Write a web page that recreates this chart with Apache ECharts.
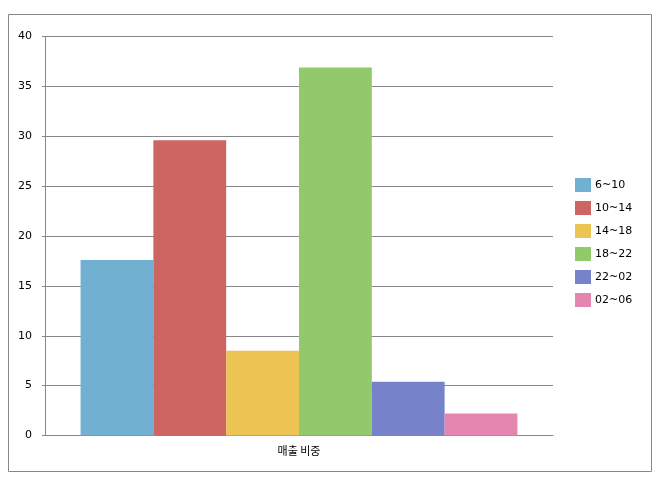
<!DOCTYPE html>
<html>
<head>
<meta charset="utf-8">
<script src="https://cdn.jsdelivr.net/npm/echarts@6/dist/echarts.min.js"></script>
<style>
  html, body { margin: 0; padding: 0; background: #fff; }
  #chart { width: 661px; height: 482px; }
</style>
</head>
<body>
<div id="chart"></div>
<script>
// 데이터
var categories = ['매출 비중'];
var seriesNames = ['6~10', '10~14', '14~18', '18~22', '22~02', '02~06'];
var seriesValues = [17.6, 29.6, 8.5, 36.9, 5.4, 2.2];
var seriesColors = ['#71B0D0', '#CD6563', '#EDC354', '#92C96A', '#7682C9', '#E486B0'];
var yTicks = { min: 0, max: 40, interval: 5 };

var myChart = echarts.init(document.getElementById('chart'));

var series = seriesNames.map(function (name, i) {
    return {
        name: name,
        type: 'bar',
        data: [seriesValues[i]],
        barGap: '0%',
        barCategoryGap: '14%',
        itemStyle: { color: seriesColors[i] }
    };
});

var option = {
    backgroundColor: '#fff',
    animation: false,
    textStyle: { fontFamily: '"DejaVu Sans", "Noto Sans CJK KR", sans-serif' },
    // 바깥 테두리
    graphic: [{
        type: 'rect',
        shape: { x: 8.5, y: 14.5, width: 643, height: 457 },
        style: { fill: 'none', stroke: '#888', lineWidth: 1 },
        silent: true
    }],
    grid: {
        left: 45,
        right: 108,
        top: 36.5,
        bottom: 46.5
    },
    legend: {
        orient: 'vertical',
        left: 575,
        top: 178,
        padding: 0,
        itemWidth: 16,
        itemHeight: 14,
        itemGap: 9,
        icon: 'rect',
        data: seriesNames,
        textStyle: { color: '#000', fontSize: 11, padding: [0, 0, 0, -1] }
    },
    xAxis: {
        type: 'category',
        data: categories,
        axisLine: { lineStyle: { color: '#888', width: 1 } },
        axisTick: { show: false },
        axisLabel: {
            color: '#000',
            fontSize: 11,
            margin: 10,
            fontFamily: '"Noto Sans CJK KR", sans-serif'
        }
    },
    yAxis: {
        type: 'value',
        min: yTicks.min,
        max: yTicks.max,
        interval: yTicks.interval,
        axisLine: { show: true, lineStyle: { color: '#888', width: 1 } },
        axisTick: { show: true, length: 3, lineStyle: { color: '#888' } },
        axisLabel: { color: '#000', fontSize: 11, margin: 13 },
        splitLine: { lineStyle: { color: '#888', width: 1 } }
    },
    series: series
};

myChart.setOption(option);
</script>
</body>
</html>
